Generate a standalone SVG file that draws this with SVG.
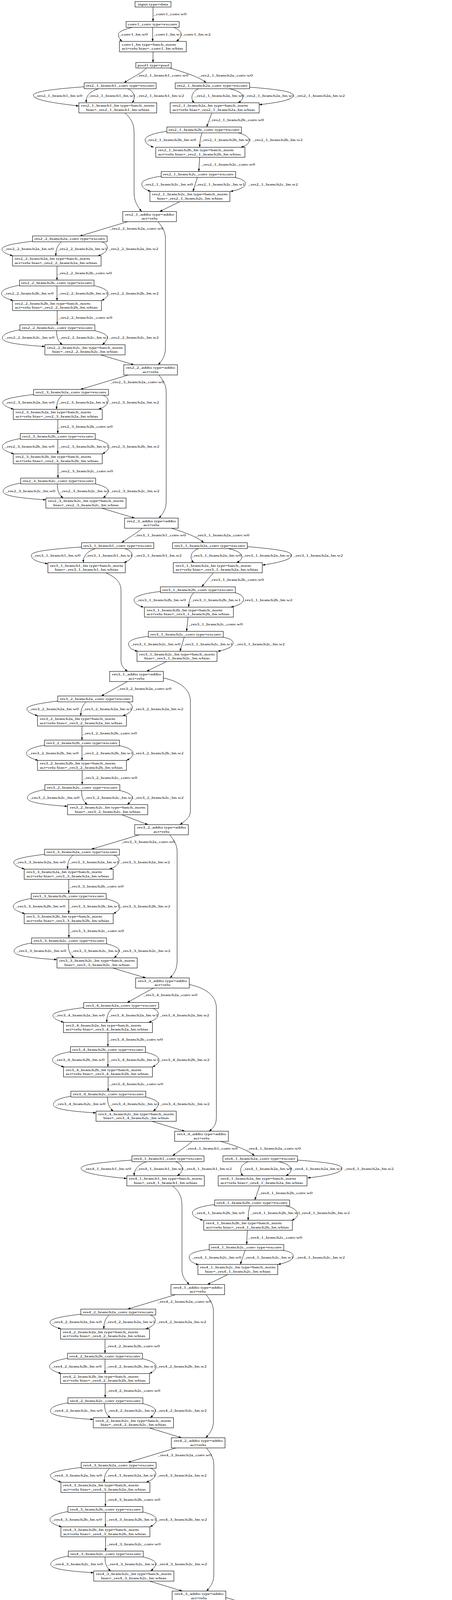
<svg xmlns="http://www.w3.org/2000/svg" width="1158" height="6603" viewBox="0 0 1158 6603">
<style>
.t{font-family:"Liberation Serif","Times New Roman",serif;font-size:8.7px;fill:#000;stroke:none;transform-box:fill-box;transform-origin:0 50%;transform:scale(1.42,1)}
.m{text-anchor:middle;transform-origin:50% 50%}
.n rect{fill:#fff;stroke:#000;stroke-width:1.1}
</style>
<defs>
<marker id="arr" viewBox="0 0 10 10" refX="10" refY="5" markerUnits="userSpaceOnUse" markerWidth="7" markerHeight="5" orient="auto" preserveAspectRatio="none"><path d="M0,0L10,5L0,10z" fill="#000" stroke="none"/></marker>
<g id="chain" fill="none" stroke="#000" stroke-width="1" marker-end="url(#arr)">
<path d="M52,76C20,80 -27,86 -27,96C-27,104 -12,110 1,113.5"/>
<path d="M125,78C114,88 111,98 111,114"/>
<path d="M230,78C250,86 248,104 218,114"/>
<path d="M114,140L114,176"/>
<path d="M18,189C0,192 -28,198 -28,210C-28,218 -12,224 2,228"/>
<path d="M114,191L114,228"/>
<path d="M210,190C236,196 245,203 245,210C245,218 236,224 228,228"/>
<path d="M114.5,253.5L114.5,290"/>
<path d="M113,305C113,322 116,332 128,341"/>
<path d="M211,305C236,311 244,318 243,323C242,330 236,336 230,341"/>
</g>
</defs>
<rect x="0" y="0" width="1158" height="6603" fill="#fff"/>

<g id="connectors" fill="none" stroke="#000" stroke-width="1" marker-end="url(#arr)">
<path d="M392,18L392,55"/>
<path d="M339,70C315,76 303.3,82 303.3,88.3C303.3,95 306,100 313,106"/>
<path d="M391,70L391,106"/>
<path d="M445,70C460,76 464,82 464,88.3C464,96 458,101 451.7,106"/>
<path d="M392,132.7L392,160"/>
<g transform="translate(0,149.1)">
<path d="M375.5,24.9C362,40 332,52 318,63"/>
<path d="M435,24.9C472,36 512,48 528,63"/>
<path d="M215.6,73C150,78 85.5,84 85.5,95C85.5,108 150,116 202,122.3"/>
<path d="M252.8,78C226,86 219,100 221.6,114"/>
<path d="M327,78C347,86 347,104 338,114"/>
<path d="M509,78C490,86 487,104 498,114"/>
<path d="M587,78C628,86 630,104 609.7,114"/>
<path d="M639.4,74C700,79 751,84 751,95C751,108 705,114 664,119"/>
<path d="M542.7,140L529.4,176"/>
<path d="M427.5,187C392,192 371.7,200 371.7,209C371.7,218 382,224 394,228"/>
<path d="M518,191C514,200 512,212 511.5,228"/>
<path d="M609.7,191C645,198 648,220 617,228"/>
<path d="M511.5,253.5L509.3,290"/>
<path d="M413,302C385,306 363,312 363,322C363,332 375,337 386,341"/>
<path d="M505.6,305L494.4,341"/>
<path d="M600.7,305C640,312 640,332 590,341"/>
<path d="M319.7,140C334,152 343.5,166 343.5,190L343.5,345C343.5,365 352,379 362.8,392.4"/>
<path d="M461,367L409,392.4"/>
</g>
<g transform="translate(32,541.5)"><use href="#chain"/><path d="M19,303C0,306 -26,312 -26,324C-26,335 10,341 83,345.5"/><path d="M295,26L172,63"/><path d="M226,367L311,392.4"/><path d="M373,26C381,37 391.8,49 391.8,69L391.8,350C391.8,370 383,382 373,392.4"/></g>
<g transform="translate(34,933.9)"><use href="#chain"/><path d="M19,303C0,306 -26,312 -26,324C-26,335 10,341 83.5,345.5"/><path d="M295,26L172,63"/><path d="M226.5,367L311,392.4"/><path d="M373,26C381,37 391.8,49 391.8,69L391.8,350C391.8,370 383,382 373,392.4"/></g>
<g transform="translate(0,1326.3)">
<path d="M364,26C350,40 325,52 312,63"/>
<path d="M438.7,26C472,36 506,48 522,63"/>
<path d="M209,74C140,79 80.3,84 80.3,95C80.3,108 100,113 122.7,117"/>
<path d="M245,78C220,86 212,100 214,114"/>
<path d="M320,78C345,86 345,104 317.5,114"/>
<path d="M509,78C486,86 485,104 496.7,114"/>
<path d="M583.6,78C626,86 628,104 606,114"/>
<path d="M633.5,73C700,79 747,84 747,95C747,108 705,115 672,120.5"/>
<path d="M546.5,140L516.7,176"/>
<path d="M411,188C372,192 343.5,200 343.5,209C343.5,219 356,225 368,228"/>
<path d="M496.7,191C487,200 484,212 483.3,228"/>
<path d="M602,191C632,198 634,220 591,228"/>
<path d="M481.8,253.5L478,290"/>
<path d="M380,303C350,306 329.4,312 329.4,322C329.4,333 341,338 353,341"/>
<path d="M472,305L461,341"/>
<path d="M571,305C607,310 609,332 557.6,341"/>
<path d="M271,140C293,150 310,162 310,185L310,365C310,378 318,386 327,392.4"/>
<path d="M427.5,367L375.5,392.4"/>
</g>
<g transform="translate(96,1718.7)"><use href="#chain"/><path d="M19,303C0,306 -26,312 -26,324C-26,335 10,341 77,345.5"/><path d="M230.5,26L163.5,63"/><path d="M216,367L283,392.4"/><path d="M322.5,17C358,24 391.8,42 391.8,77L391.8,357C391.8,375 377,383.4 365,392.4"/></g>
<g transform="translate(62,2111.1)"><use href="#chain"/><path d="M19,303C0,306 -26,312 -26,324C-26,335 10,341 84,345.5"/><path d="M295,26L172,63"/><path d="M227,367L311.5,392.4"/><path d="M373,26C381,37 391.8,49 391.8,69L391.8,350C391.8,370 383.5,382 373.5,392.4"/></g>
<g transform="translate(162.5,2503.5)"><use href="#chain"/><path d="M19,303C0,306 -26,312 -26,324C-26,335 10,341 83.5,345.5"/><path d="M230.5,26L163.5,63"/><path d="M226.5,367L311,392.4"/><path d="M322.5,17C358,24 391.8,42 391.8,77L391.8,357C391.8,375 385,383.4 373,392.4"/></g>
<g transform="translate(0,2895.9)">
<path d="M492,26C478,40 455,52 442.4,63"/>
<path d="M565,26C600,36 636,48 652,63"/>
<path d="M338,74C270,79 208,84 208,95C208,108 270,116 325,121"/>
<path d="M375.5,78C352,86 343,100 344,114"/>
<path d="M449.8,78C472,86 472,104 453.5,114"/>
<path d="M635.7,78C614,86 612,104 623,114"/>
<path d="M713.8,78C752,86 753,104 732,114"/>
<path d="M762,74C830,79 876,84 876,95C876,108 830,115 788,119.6"/>
<path d="M665.4,140L652.8,176"/>
<path d="M550,188C512,192 493,200 493,209C493,218 506,224 520.4,228"/>
<path d="M641,191C637,200 636,212 635.7,228"/>
<path d="M732,191C767,198 771,220 747,228"/>
<path d="M633.5,253.5L632,290"/>
<path d="M536,303C505,306 484.8,312 484.8,322C484.8,333 496,338 509,342"/>
<path d="M628,305L615.6,341"/>
<path d="M725,305C762,310 763,332 712,341"/>
<path d="M442.4,140C457,152 466.2,166 466.2,190L466.2,355C466.2,372 475,382 484.8,392.4"/>
<path d="M583.6,367L531.6,392.4"/>
</g>
<g transform="translate(155,3288.3)"><use href="#chain"/><path d="M19,303C0,306 -26,312 -26,324C-26,335 10,341 84,345.5"/><path d="M295,26L172,63"/><path d="M227,367L310,392.4"/><path d="M373,26C381,37 391.8,49 391.8,69L391.8,350C391.8,370 382,382 372,392.4"/></g>
<g transform="translate(156,3680.7)"><use href="#chain"/><path d="M19,303C0,306 -26,312 -26,324C-26,335 10,341 84,345.5"/><path d="M295,26L172,63"/><path d="M227,367L311,392.4"/><path d="M373,26C381,37 391.8,49 391.8,69L391.8,350C391.8,370 383,382 373,392.4"/></g>
<g transform="translate(256,4073.1)"><use href="#chain"/><path d="M19,303C0,306 -26,312 -26,324C-26,335 10,341 49.5,345.5"/><path d="M230.5,26L163.5,63"/><path d="M200.5,367L302.5,392.4"/><path d="M322.5,17C358,24 391.8,42 391.8,77L391.8,357C391.8,375 386.5,383.4 374.5,392.4"/></g>
<g transform="translate(259.5,4465.5)"><use href="#chain"/><path d="M19,303C0,306 -26,312 -26,324C-26,335 10,341 84,345.5"/><path d="M295,26L172,63"/><path d="M227,367L311.5,392.4"/><path d="M373,26C381,37 391.8,49 391.8,69L391.8,350C391.8,370 383.5,382 373.5,392.4"/></g>
<g transform="translate(360,4857.9)"><use href="#chain"/><path d="M19,303C0,306 -26,312 -26,324C-26,335 10,341 77,345.5"/><path d="M230.5,26L163.5,63"/><path d="M213,367L275.7,392.4"/><path d="M322.5,17C358,24 391.8,42 391.8,77L391.8,357C391.8,375 371.7,383.4 359.7,392.4"/></g>
<g transform="translate(0,5250.3)">
<path d="M654.3,26C640,40 615,52 602,63"/>
<path d="M727,26C762,36 796,48 810.4,63"/>
<path d="M499,73.5C430,79 369.5,84 369.5,95C369.5,108 430,116 486,122.6"/>
<path d="M536.8,78C510,86 503,102 513,114"/>
<path d="M613.4,78C637,86 637,104 617,114"/>
<path d="M799.3,78C775,86 774,104 788,114"/>
<path d="M877,78C917,86 919,104 896,114"/>
<path d="M924,74C990,79 1037,84 1037,95C1037,108 990,115 949.4,120.3"/>
<path d="M826.8,140L812,176"/>
<path d="M711.5,187.3C672,192 654.3,200 654.3,209C654.3,218 668,224 682.5,227.5"/>
<path d="M803,191C799,200 797.5,212 797,228"/>
<path d="M892,191C932,198 936,220 905.6,228"/>
<path d="M797,253.5L794,290"/>
<path d="M697.4,302C665,306 646.8,312 646.8,322C646.8,334 655,340 668.4,344.7"/>
<path d="M789.6,305L777,341"/>
<path d="M888.5,305C927,310 929,332 871.4,343.5"/>
<path d="M603.7,140C619,152 628.3,166 628.3,190L628.3,355C628.3,372 638,383 648.3,392.4"/>
<path d="M743.5,367L695.2,392.4"/>
</g>
<g transform="translate(414,5642.7)"><use href="#chain"/><path d="M19,303C0,306 -26,312 -26,324C-26,335 10,341 78,345.5"/><path d="M230.5,26L163.5,63"/><path d="M211,367L281,392.4"/><path d="M322.5,17C358,24 391.8,42 391.8,77L391.8,357C391.8,375 375,383.4 363,392.4"/></g>
<g transform="translate(479,6035.1)"><use href="#chain"/><path d="M19,303C0,306 -26,312 -26,324C-26,335 10,341 84,345.5"/><path d="M230.5,26L163.5,63"/><path d="M227,367L314.6,392.4"/><path d="M322.5,17C358,24 391.8,42 391.8,77L391.8,357C391.8,375 380.6,383.4 368.6,392.4"/></g>
<path d="M832.3,6453.5L832.3,6480.5"/>
<path d="M832.3,6495.5L832.3,6532"/>
<path d="M862.5,6558L922,6586"/>
<path d="M970,6552.6L945.7,6586"/>
</g>

<g id="nodes">
<g id="input" class="n"><rect x="346" y="4" width="92" height="14"/><text class="t m" x="392" y="13.9">input type=data</text></g>
<g id="conv1_conv" class="n"><rect x="323" y="55" width="136" height="15"/><text class="t m" x="391" y="65.4">conv1_conv type=exconv</text></g>
<g id="conv1_bn" class="n"><rect x="306" y="106" width="171.3" height="26.7"/><text class="t" x="312" y="117.2">conv1_bn type=batch_norm</text><text class="t" x="312" y="127">act=relu bias=_conv1_bn.wbias</text></g>
<g id="pool1" class="n"><rect x="348" y="160" width="90.6" height="14"/><text class="t m" x="393.3" y="170">pool1 type=pool</text></g>

<g transform="translate(0,149.1)">
<g id="res2_1_branch1_conv" class="n"><rect x="215.6" y="63" width="184.4" height="15"/><text class="t m" x="307.8" y="73.4">res2_1_branch1_conv type=exconv</text></g>
<g id="res2_1_branch2a_conv" class="n"><rect x="449" y="63" width="190.4" height="15"/><text class="t m" x="544.2" y="73.4">res2_1_branch2a_conv type=exconv</text></g>
<g id="res2_1_branch1_bn" class="n"><rect x="202" y="114" width="199.5" height="26"/><text class="t m" x="301.75" y="124.4">res2_1_branch1_bn type=batch_norm</text><text class="t m" x="301.75" y="134.9">bias=_res2_1_branch1_bn.wbias</text></g>
<g id="res2_1_branch2a_bn" class="n"><rect x="436" y="114" width="228" height="26"/><text class="t" x="442" y="124.4">res2_1_branch2a_bn type=batch_norm</text><text class="t" x="442" y="134.9">act=relu bias=_res2_1_branch2a_bn.wbias</text></g>
<g id="res2_1_branch2b_conv" class="n"><rect x="427.5" y="176" width="191" height="15"/><text class="t m" x="523" y="186.4">res2_1_branch2b_conv type=exconv</text></g>
<g id="res2_1_branch2b_bn" class="n"><rect x="399" y="228" width="228.5" height="25.5"/><text class="t" x="405" y="238.4">res2_1_branch2b_bn type=batch_norm</text><text class="t" x="405" y="248.9">act=relu bias=_res2_1_branch2b_bn.wbias</text></g>
<g id="res2_1_branch2c_conv" class="n"><rect x="413" y="290" width="190.7" height="15"/><text class="t m" x="508.3" y="300.4">res2_1_branch2c_conv type=exconv</text></g>
<g id="res2_1_branch2c_bn" class="n"><rect x="384" y="341" width="205" height="26"/><text class="t m" x="486.5" y="351.4">res2_1_branch2c_bn type=batch_norm</text><text class="t m" x="486.5" y="361.9">bias=_res2_1_branch2c_bn.wbias</text></g>
<g id="res2_1_addto" class="n"><rect x="314.5" y="392.4" width="137.5" height="26"/><text class="t m" x="383.25" y="402.8">res2_1_addto type=addto</text><text class="t m" x="383.25" y="413.3">act=relu</text></g>
</g>

<g transform="translate(32,541.5)">
<g id="res2_2_branch2a_conv" class="n"><rect x="51.5" y="62.5" width="191" height="15"/><text class="t m" x="147" y="72.9">res2_2_branch2a_conv type=exconv</text></g>
<g id="res2_2_branch2a_bn" class="n"><rect x="0" y="113.5" width="227" height="26"/><text class="t" x="5.5" y="124">res2_2_branch2a_bn type=batch_norm</text><text class="t" x="5.5" y="134.5">act=relu bias=_res2_2_branch2a_bn.wbias</text></g>
<g id="res2_2_branch2b_conv" class="n"><rect x="18" y="175.5" width="191" height="15"/><text class="t m" x="113.5" y="185.9">res2_2_branch2b_conv type=exconv</text></g>
<g id="res2_2_branch2b_bn" class="n"><rect x="0" y="228" width="228" height="25.5"/><text class="t" x="6" y="238.4">res2_2_branch2b_bn type=batch_norm</text><text class="t" x="6" y="248.9">act=relu bias=_res2_2_branch2b_bn.wbias</text></g>
<g id="res2_2_branch2c_conv" class="n"><rect x="19" y="290" width="192" height="15"/><text class="t m" x="115" y="300.4">res2_2_branch2c_conv type=exconv</text></g>
<g id="res2_2_branch2c_bn" class="n"><rect x="83" y="341" width="205.5" height="26"/><text class="t m" x="185.75" y="351.4">res2_2_branch2c_bn type=batch_norm</text><text class="t m" x="185.75" y="361.9">bias=_res2_2_branch2c_bn.wbias</text></g>
<g id="res2_2_addto" class="n"><rect x="285" y="392.4" width="137.5" height="26"/><text class="t m" x="353.75" y="402.8">res2_2_addto type=addto</text><text class="t m" x="353.75" y="413.3">act=relu</text></g>
</g>

<g transform="translate(34,933.9)">
<g id="res2_3_branch2a_conv" class="n"><rect x="52" y="63" width="192" height="15"/><text class="t m" x="148" y="73.4">res2_3_branch2a_conv type=exconv</text></g>
<g id="res2_3_branch2a_bn" class="n"><rect x="0" y="114" width="228" height="26"/><text class="t" x="6" y="124.4">res2_3_branch2a_bn type=batch_norm</text><text class="t" x="6" y="134.9">act=relu bias=_res2_3_branch2a_bn.wbias</text></g>
<g id="res2_3_branch2b_conv" class="n"><rect x="18" y="176" width="192" height="15"/><text class="t m" x="114" y="186.4">res2_3_branch2b_conv type=exconv</text></g>
<g id="res2_3_branch2b_bn" class="n"><rect x="0" y="228" width="228" height="25.5"/><text class="t" x="6" y="238.4">res2_3_branch2b_bn type=batch_norm</text><text class="t" x="6" y="248.9">act=relu bias=_res2_3_branch2b_bn.wbias</text></g>
<g id="res2_3_branch2c_conv" class="n"><rect x="19" y="290" width="192" height="15"/><text class="t m" x="115" y="300.4">res2_3_branch2c_conv type=exconv</text></g>
<g id="res2_3_branch2c_bn" class="n"><rect x="83.5" y="341" width="205.5" height="26"/><text class="t m" x="186.25" y="351.4">res2_3_branch2c_bn type=batch_norm</text><text class="t m" x="186.25" y="361.9">bias=_res2_3_branch2c_bn.wbias</text></g>
<g id="res2_3_addto" class="n"><rect x="285" y="392.4" width="137.5" height="26"/><text class="t m" x="353.75" y="402.8">res2_3_addto type=addto</text><text class="t m" x="353.75" y="413.3">act=relu</text></g>
</g>

<g transform="translate(0,1326.3)">
<g id="res3_1_branch1_conv" class="n"><rect x="209" y="63" width="185" height="15"/><text class="t m" x="301.5" y="73.4">res3_1_branch1_conv type=exconv</text></g>
<g id="res3_1_branch2a_conv" class="n"><rect x="442" y="63" width="191.5" height="15"/><text class="t m" x="537.75" y="73.4">res3_1_branch2a_conv type=exconv</text></g>
<g id="res3_1_branch1_bn" class="n"><rect x="122.7" y="114" width="198.3" height="26"/><text class="t m" x="221.85" y="124.4">res3_1_branch1_bn type=batch_norm</text><text class="t m" x="221.85" y="134.9">bias=_res3_1_branch1_bn.wbias</text></g>
<g id="res3_1_branch2a_bn" class="n"><rect x="444" y="114" width="228" height="26"/><text class="t" x="450" y="124.4">res3_1_branch2a_bn type=batch_norm</text><text class="t" x="450" y="134.9">act=relu bias=_res3_1_branch2a_bn.wbias</text></g>
<g id="res3_1_branch2b_conv" class="n"><rect x="411" y="176" width="192" height="15"/><text class="t m" x="507" y="186.4">res3_1_branch2b_conv type=exconv</text></g>
<g id="res3_1_branch2b_bn" class="n"><rect x="370" y="228" width="228" height="25.5"/><text class="t" x="376" y="238.4">res3_1_branch2b_bn type=batch_norm</text><text class="t" x="376" y="248.9">act=relu bias=_res3_1_branch2b_bn.wbias</text></g>
<g id="res3_1_branch2c_conv" class="n"><rect x="380" y="290" width="192" height="15"/><text class="t m" x="476" y="300.4">res3_1_branch2c_conv type=exconv</text></g>
<g id="res3_1_branch2c_bn" class="n"><rect x="351" y="341" width="205" height="26"/><text class="t m" x="453.5" y="351.4">res3_1_branch2c_bn type=batch_norm</text><text class="t m" x="453.5" y="361.9">bias=_res3_1_branch2c_bn.wbias</text></g>
<g id="res3_1_addto" class="n"><rect x="281" y="392.4" width="137.5" height="26"/><text class="t m" x="349.75" y="402.8">res3_1_addto type=addto</text><text class="t m" x="349.75" y="413.3">act=relu</text></g>
</g>

<g transform="translate(96,1718.7)">
<g id="res3_2_branch2a_conv" class="n"><rect x="52" y="63" width="192" height="15"/><text class="t m" x="148" y="73.4">res3_2_branch2a_conv type=exconv</text></g>
<g id="res3_2_branch2a_bn" class="n"><rect x="0" y="114" width="228" height="26"/><text class="t" x="6" y="124.4">res3_2_branch2a_bn type=batch_norm</text><text class="t" x="6" y="134.9">act=relu bias=_res3_2_branch2a_bn.wbias</text></g>
<g id="res3_2_branch2b_conv" class="n"><rect x="18" y="176" width="192" height="15"/><text class="t m" x="114" y="186.4">res3_2_branch2b_conv type=exconv</text></g>
<g id="res3_2_branch2b_bn" class="n"><rect x="0" y="228" width="228" height="25.5"/><text class="t" x="6" y="238.4">res3_2_branch2b_bn type=batch_norm</text><text class="t" x="6" y="248.9">act=relu bias=_res3_2_branch2b_bn.wbias</text></g>
<g id="res3_2_branch2c_conv" class="n"><rect x="19" y="290" width="192" height="15"/><text class="t m" x="115" y="300.4">res3_2_branch2c_conv type=exconv</text></g>
<g id="res3_2_branch2c_bn" class="n"><rect x="77" y="341" width="205.5" height="26"/><text class="t m" x="179.75" y="351.4">res3_2_branch2c_bn type=batch_norm</text><text class="t m" x="179.75" y="361.9">bias=_res3_2_branch2c_bn.wbias</text></g>
<g id="res3_2_addto" class="n"><rect x="249" y="392.4" width="137.5" height="26"/><text class="t m" x="317.75" y="402.8">res3_2_addto type=addto</text><text class="t m" x="317.75" y="413.3">act=relu</text></g>
</g>

<g transform="translate(62,2111.1)">
<g id="res3_3_branch2a_conv" class="n"><rect x="52" y="63" width="192" height="15"/><text class="t m" x="148" y="73.4">res3_3_branch2a_conv type=exconv</text></g>
<g id="res3_3_branch2a_bn" class="n"><rect x="0" y="114" width="228" height="26"/><text class="t" x="6" y="124.4">res3_3_branch2a_bn type=batch_norm</text><text class="t" x="6" y="134.9">act=relu bias=_res3_3_branch2a_bn.wbias</text></g>
<g id="res3_3_branch2b_conv" class="n"><rect x="18" y="176" width="192" height="15"/><text class="t m" x="114" y="186.4">res3_3_branch2b_conv type=exconv</text></g>
<g id="res3_3_branch2b_bn" class="n"><rect x="0" y="228" width="228" height="25.5"/><text class="t" x="6" y="238.4">res3_3_branch2b_bn type=batch_norm</text><text class="t" x="6" y="248.9">act=relu bias=_res3_3_branch2b_bn.wbias</text></g>
<g id="res3_3_branch2c_conv" class="n"><rect x="19" y="290" width="192" height="15"/><text class="t m" x="115" y="300.4">res3_3_branch2c_conv type=exconv</text></g>
<g id="res3_3_branch2c_bn" class="n"><rect x="84" y="341" width="205.5" height="26"/><text class="t m" x="186.75" y="351.4">res3_3_branch2c_bn type=batch_norm</text><text class="t m" x="186.75" y="361.9">bias=_res3_3_branch2c_bn.wbias</text></g>
<g id="res3_3_addto" class="n"><rect x="285.5" y="392.4" width="137.5" height="26"/><text class="t m" x="354.25" y="402.8">res3_3_addto type=addto</text><text class="t m" x="354.25" y="413.3">act=relu</text></g>
</g>

<g transform="translate(162.5,2503.5)">
<g id="res3_4_branch2a_conv" class="n"><rect x="52" y="63" width="192" height="15"/><text class="t m" x="148" y="73.4">res3_4_branch2a_conv type=exconv</text></g>
<g id="res3_4_branch2a_bn" class="n"><rect x="0" y="114" width="228" height="26"/><text class="t" x="6" y="124.4">res3_4_branch2a_bn type=batch_norm</text><text class="t" x="6" y="134.9">act=relu bias=_res3_4_branch2a_bn.wbias</text></g>
<g id="res3_4_branch2b_conv" class="n"><rect x="18" y="176" width="192" height="15"/><text class="t m" x="114" y="186.4">res3_4_branch2b_conv type=exconv</text></g>
<g id="res3_4_branch2b_bn" class="n"><rect x="0" y="228" width="228" height="25.5"/><text class="t" x="6" y="238.4">res3_4_branch2b_bn type=batch_norm</text><text class="t" x="6" y="248.9">act=relu bias=_res3_4_branch2b_bn.wbias</text></g>
<g id="res3_4_branch2c_conv" class="n"><rect x="19" y="290" width="192" height="15"/><text class="t m" x="115" y="300.4">res3_4_branch2c_conv type=exconv</text></g>
<g id="res3_4_branch2c_bn" class="n"><rect x="83.5" y="341" width="205.5" height="26"/><text class="t m" x="186.25" y="351.4">res3_4_branch2c_bn type=batch_norm</text><text class="t m" x="186.25" y="361.9">bias=_res3_4_branch2c_bn.wbias</text></g>
<g id="res3_4_addto" class="n"><rect x="285" y="392.4" width="137.5" height="26"/><text class="t m" x="353.75" y="402.8">res3_4_addto type=addto</text><text class="t m" x="353.75" y="413.3">act=relu</text></g>
</g>

<g transform="translate(0,2895.9)">
<g id="res4_1_branch1_conv" class="n"><rect x="338" y="63" width="184.7" height="15"/><text class="t m" x="430.35" y="73.4">res4_1_branch1_conv type=exconv</text></g>
<g id="res4_1_branch2a_conv" class="n"><rect x="571" y="63" width="191" height="15"/><text class="t m" x="666.5" y="73.4">res4_1_branch2a_conv type=exconv</text></g>
<g id="res4_1_branch1_bn" class="n"><rect x="325" y="114" width="198.4" height="26"/><text class="t m" x="424.2" y="124.4">res4_1_branch1_bn type=batch_norm</text><text class="t m" x="424.2" y="134.9">bias=_res4_1_branch1_bn.wbias</text></g>
<g id="res4_1_branch2a_bn" class="n"><rect x="559" y="114" width="227.6" height="26"/><text class="t" x="565" y="124.4">res4_1_branch2a_bn type=batch_norm</text><text class="t" x="565" y="134.9">act=relu bias=_res4_1_branch2a_bn.wbias</text></g>
<g id="res4_1_branch2b_conv" class="n"><rect x="550" y="176" width="192" height="15"/><text class="t m" x="646" y="186.4">res4_1_branch2b_conv type=exconv</text></g>
<g id="res4_1_branch2b_bn" class="n"><rect x="522" y="228" width="227" height="25.5"/><text class="t" x="528" y="238.4">res4_1_branch2b_bn type=batch_norm</text><text class="t" x="528" y="248.9">act=relu bias=_res4_1_branch2b_bn.wbias</text></g>
<g id="res4_1_branch2c_conv" class="n"><rect x="536" y="290" width="191" height="15"/><text class="t m" x="631.5" y="300.4">res4_1_branch2c_conv type=exconv</text></g>
<g id="res4_1_branch2c_bn" class="n"><rect x="507" y="341" width="204.5" height="26"/><text class="t m" x="609.25" y="351.4">res4_1_branch2c_bn type=batch_norm</text><text class="t m" x="609.25" y="361.9">bias=_res4_1_branch2c_bn.wbias</text></g>
<g id="res4_1_addto" class="n"><rect x="438" y="392.4" width="137.5" height="26"/><text class="t m" x="506.75" y="402.8">res4_1_addto type=addto</text><text class="t m" x="506.75" y="413.3">act=relu</text></g>
</g>

<g transform="translate(155,3288.3)">
<g id="res4_2_branch2a_conv" class="n"><rect x="52" y="63" width="192" height="15"/><text class="t m" x="148" y="73.4">res4_2_branch2a_conv type=exconv</text></g>
<g id="res4_2_branch2a_bn" class="n"><rect x="0" y="114" width="228" height="26"/><text class="t" x="6" y="124.4">res4_2_branch2a_bn type=batch_norm</text><text class="t" x="6" y="134.9">act=relu bias=_res4_2_branch2a_bn.wbias</text></g>
<g id="res4_2_branch2b_conv" class="n"><rect x="18" y="176" width="192" height="15"/><text class="t m" x="114" y="186.4">res4_2_branch2b_conv type=exconv</text></g>
<g id="res4_2_branch2b_bn" class="n"><rect x="0" y="228" width="228" height="25.5"/><text class="t" x="6" y="238.4">res4_2_branch2b_bn type=batch_norm</text><text class="t" x="6" y="248.9">act=relu bias=_res4_2_branch2b_bn.wbias</text></g>
<g id="res4_2_branch2c_conv" class="n"><rect x="19" y="290" width="192" height="15"/><text class="t m" x="115" y="300.4">res4_2_branch2c_conv type=exconv</text></g>
<g id="res4_2_branch2c_bn" class="n"><rect x="84" y="341" width="205.5" height="26"/><text class="t m" x="186.75" y="351.4">res4_2_branch2c_bn type=batch_norm</text><text class="t m" x="186.75" y="361.9">bias=_res4_2_branch2c_bn.wbias</text></g>
<g id="res4_2_addto" class="n"><rect x="284" y="392.4" width="137.5" height="26"/><text class="t m" x="352.75" y="402.8">res4_2_addto type=addto</text><text class="t m" x="352.75" y="413.3">act=relu</text></g>
</g>

<g transform="translate(156,3680.7)">
<g id="res4_3_branch2a_conv" class="n"><rect x="52" y="63" width="192" height="15"/><text class="t m" x="148" y="73.4">res4_3_branch2a_conv type=exconv</text></g>
<g id="res4_3_branch2a_bn" class="n"><rect x="0" y="114" width="228" height="26"/><text class="t" x="6" y="124.4">res4_3_branch2a_bn type=batch_norm</text><text class="t" x="6" y="134.9">act=relu bias=_res4_3_branch2a_bn.wbias</text></g>
<g id="res4_3_branch2b_conv" class="n"><rect x="18" y="176" width="192" height="15"/><text class="t m" x="114" y="186.4">res4_3_branch2b_conv type=exconv</text></g>
<g id="res4_3_branch2b_bn" class="n"><rect x="0" y="228" width="228" height="25.5"/><text class="t" x="6" y="238.4">res4_3_branch2b_bn type=batch_norm</text><text class="t" x="6" y="248.9">act=relu bias=_res4_3_branch2b_bn.wbias</text></g>
<g id="res4_3_branch2c_conv" class="n"><rect x="19" y="290" width="192" height="15"/><text class="t m" x="115" y="300.4">res4_3_branch2c_conv type=exconv</text></g>
<g id="res4_3_branch2c_bn" class="n"><rect x="84" y="341" width="205.5" height="26"/><text class="t m" x="186.75" y="351.4">res4_3_branch2c_bn type=batch_norm</text><text class="t m" x="186.75" y="361.9">bias=_res4_3_branch2c_bn.wbias</text></g>
<g id="res4_3_addto" class="n"><rect x="285" y="392.4" width="137.5" height="26"/><text class="t m" x="353.75" y="402.8">res4_3_addto type=addto</text><text class="t m" x="353.75" y="413.3">act=relu</text></g>
</g>

<g transform="translate(256,4073.1)">
<g id="res4_4_branch2a_conv" class="n"><rect x="52" y="63" width="192" height="15"/><text class="t m" x="148" y="73.4">res4_4_branch2a_conv type=exconv</text></g>
<g id="res4_4_branch2a_bn" class="n"><rect x="0" y="114" width="228" height="26"/><text class="t" x="6" y="124.4">res4_4_branch2a_bn type=batch_norm</text><text class="t" x="6" y="134.9">act=relu bias=_res4_4_branch2a_bn.wbias</text></g>
<g id="res4_4_branch2b_conv" class="n"><rect x="18" y="176" width="192" height="15"/><text class="t m" x="114" y="186.4">res4_4_branch2b_conv type=exconv</text></g>
<g id="res4_4_branch2b_bn" class="n"><rect x="0" y="228" width="228" height="25.5"/><text class="t" x="6" y="238.4">res4_4_branch2b_bn type=batch_norm</text><text class="t" x="6" y="248.9">act=relu bias=_res4_4_branch2b_bn.wbias</text></g>
<g id="res4_4_branch2c_conv" class="n"><rect x="19" y="290" width="192" height="15"/><text class="t m" x="115" y="300.4">res4_4_branch2c_conv type=exconv</text></g>
<g id="res4_4_branch2c_bn" class="n"><rect x="49.5" y="341" width="205.5" height="26"/><text class="t m" x="152.25" y="351.4">res4_4_branch2c_bn type=batch_norm</text><text class="t m" x="152.25" y="361.9">bias=_res4_4_branch2c_bn.wbias</text></g>
<g id="res4_4_addto" class="n"><rect x="286.5" y="392.4" width="137.5" height="26"/><text class="t m" x="355.25" y="402.8">res4_4_addto type=addto</text><text class="t m" x="355.25" y="413.3">act=relu</text></g>
</g>

<g transform="translate(259.5,4465.5)">
<g id="res4_5_branch2a_conv" class="n"><rect x="52" y="63" width="192" height="15"/><text class="t m" x="148" y="73.4">res4_5_branch2a_conv type=exconv</text></g>
<g id="res4_5_branch2a_bn" class="n"><rect x="0" y="114" width="228" height="26"/><text class="t" x="6" y="124.4">res4_5_branch2a_bn type=batch_norm</text><text class="t" x="6" y="134.9">act=relu bias=_res4_5_branch2a_bn.wbias</text></g>
<g id="res4_5_branch2b_conv" class="n"><rect x="18" y="176" width="192" height="15"/><text class="t m" x="114" y="186.4">res4_5_branch2b_conv type=exconv</text></g>
<g id="res4_5_branch2b_bn" class="n"><rect x="0" y="228" width="228" height="25.5"/><text class="t" x="6" y="238.4">res4_5_branch2b_bn type=batch_norm</text><text class="t" x="6" y="248.9">act=relu bias=_res4_5_branch2b_bn.wbias</text></g>
<g id="res4_5_branch2c_conv" class="n"><rect x="19" y="290" width="192" height="15"/><text class="t m" x="115" y="300.4">res4_5_branch2c_conv type=exconv</text></g>
<g id="res4_5_branch2c_bn" class="n"><rect x="84" y="341" width="205.5" height="26"/><text class="t m" x="186.75" y="351.4">res4_5_branch2c_bn type=batch_norm</text><text class="t m" x="186.75" y="361.9">bias=_res4_5_branch2c_bn.wbias</text></g>
<g id="res4_5_addto" class="n"><rect x="285.5" y="392.4" width="137.5" height="26"/><text class="t m" x="354.25" y="402.8">res4_5_addto type=addto</text><text class="t m" x="354.25" y="413.3">act=relu</text></g>
</g>

<g transform="translate(360,4857.9)">
<g id="res4_6_branch2a_conv" class="n"><rect x="52" y="63" width="192" height="15"/><text class="t m" x="148" y="73.4">res4_6_branch2a_conv type=exconv</text></g>
<g id="res4_6_branch2a_bn" class="n"><rect x="0" y="114" width="228" height="26"/><text class="t" x="6" y="124.4">res4_6_branch2a_bn type=batch_norm</text><text class="t" x="6" y="134.9">act=relu bias=_res4_6_branch2a_bn.wbias</text></g>
<g id="res4_6_branch2b_conv" class="n"><rect x="18" y="176" width="192" height="15"/><text class="t m" x="114" y="186.4">res4_6_branch2b_conv type=exconv</text></g>
<g id="res4_6_branch2b_bn" class="n"><rect x="0" y="228" width="228" height="25.5"/><text class="t" x="6" y="238.4">res4_6_branch2b_bn type=batch_norm</text><text class="t" x="6" y="248.9">act=relu bias=_res4_6_branch2b_bn.wbias</text></g>
<g id="res4_6_branch2c_conv" class="n"><rect x="19" y="290" width="192" height="15"/><text class="t m" x="115" y="300.4">res4_6_branch2c_conv type=exconv</text></g>
<g id="res4_6_branch2c_bn" class="n"><rect x="77" y="341" width="205.5" height="26"/><text class="t m" x="179.75" y="351.4">res4_6_branch2c_bn type=batch_norm</text><text class="t m" x="179.75" y="361.9">bias=_res4_6_branch2c_bn.wbias</text></g>
<g id="res4_6_addto" class="n"><rect x="249.7" y="392.4" width="137.5" height="26"/><text class="t m" x="318.45" y="402.8">res4_6_addto type=addto</text><text class="t m" x="318.45" y="413.3">act=relu</text></g>
</g>

<g transform="translate(0,5250.3)">
<g id="res5_1_branch1_conv" class="n"><rect x="499" y="63" width="185" height="15"/><text class="t m" x="591.5" y="73.4">res5_1_branch1_conv type=exconv</text></g>
<g id="res5_1_branch2a_conv" class="n"><rect x="732" y="63" width="192" height="15"/><text class="t m" x="828" y="73.4">res5_1_branch2a_conv type=exconv</text></g>
<g id="res5_1_branch1_bn" class="n"><rect x="486" y="114" width="199" height="26"/><text class="t m" x="585.5" y="124.4">res5_1_branch1_bn type=batch_norm</text><text class="t m" x="585.5" y="134.9">bias=_res5_1_branch1_bn.wbias</text></g>
<g id="res5_1_branch2a_bn" class="n"><rect x="720" y="114" width="229" height="26"/><text class="t" x="726" y="124.4">res5_1_branch2a_bn type=batch_norm</text><text class="t" x="726" y="134.9">act=relu bias=_res5_1_branch2a_bn.wbias</text></g>
<g id="res5_1_branch2b_conv" class="n"><rect x="711.5" y="176" width="194" height="15"/><text class="t m" x="808.5" y="186.4">res5_1_branch2b_conv type=exconv</text></g>
<g id="res5_1_branch2b_bn" class="n"><rect x="682.5" y="228" width="229" height="25.5"/><text class="t" x="688.5" y="238.4">res5_1_branch2b_bn type=batch_norm</text><text class="t" x="688.5" y="248.9">act=relu bias=_res5_1_branch2b_bn.wbias</text></g>
<g id="res5_1_branch2c_conv" class="n"><rect x="697" y="290" width="192" height="15"/><text class="t m" x="793" y="300.4">res5_1_branch2c_conv type=exconv</text></g>
<g id="res5_1_branch2c_bn" class="n"><rect x="668" y="341" width="205.6" height="26"/><text class="t m" x="770.8" y="351.4">res5_1_branch2c_bn type=batch_norm</text><text class="t m" x="770.8" y="361.9">bias=_res5_1_branch2c_bn.wbias</text></g>
<g id="res5_1_addto" class="n"><rect x="599" y="392.4" width="137.5" height="26"/><text class="t m" x="667.75" y="402.8">res5_1_addto type=addto</text><text class="t m" x="667.75" y="413.3">act=relu</text></g>
</g>

<g transform="translate(414,5642.7)">
<g id="res5_2_branch2a_conv" class="n"><rect x="52" y="63" width="192" height="15"/><text class="t m" x="148" y="73.4">res5_2_branch2a_conv type=exconv</text></g>
<g id="res5_2_branch2a_bn" class="n"><rect x="0" y="114" width="228" height="26"/><text class="t" x="6" y="124.4">res5_2_branch2a_bn type=batch_norm</text><text class="t" x="6" y="134.9">act=relu bias=_res5_2_branch2a_bn.wbias</text></g>
<g id="res5_2_branch2b_conv" class="n"><rect x="18" y="176" width="192" height="15"/><text class="t m" x="114" y="186.4">res5_2_branch2b_conv type=exconv</text></g>
<g id="res5_2_branch2b_bn" class="n"><rect x="0" y="228" width="228" height="25.5"/><text class="t" x="6" y="238.4">res5_2_branch2b_bn type=batch_norm</text><text class="t" x="6" y="248.9">act=relu bias=_res5_2_branch2b_bn.wbias</text></g>
<g id="res5_2_branch2c_conv" class="n"><rect x="19" y="290" width="192" height="15"/><text class="t m" x="115" y="300.4">res5_2_branch2c_conv type=exconv</text></g>
<g id="res5_2_branch2c_bn" class="n"><rect x="78" y="341" width="205.5" height="26"/><text class="t m" x="180.75" y="351.4">res5_2_branch2c_bn type=batch_norm</text><text class="t m" x="180.75" y="361.9">bias=_res5_2_branch2c_bn.wbias</text></g>
<g id="res5_2_addto" class="n"><rect x="250" y="392.4" width="137.5" height="26"/><text class="t m" x="318.75" y="402.8">res5_2_addto type=addto</text><text class="t m" x="318.75" y="413.3">act=relu</text></g>
</g>

<g transform="translate(479,6035.1)">
<g id="res5_3_branch2a_conv" class="n"><rect x="52" y="63" width="192" height="15"/><text class="t m" x="148" y="73.4">res5_3_branch2a_conv type=exconv</text></g>
<g id="res5_3_branch2a_bn" class="n"><rect x="0" y="114" width="228" height="26"/><text class="t" x="6" y="124.4">res5_3_branch2a_bn type=batch_norm</text><text class="t" x="6" y="134.9">act=relu bias=_res5_3_branch2a_bn.wbias</text></g>
<g id="res5_3_branch2b_conv" class="n"><rect x="18" y="176" width="192" height="15"/><text class="t m" x="114" y="186.4">res5_3_branch2b_conv type=exconv</text></g>
<g id="res5_3_branch2b_bn" class="n"><rect x="0" y="228" width="228" height="25.5"/><text class="t" x="6" y="238.4">res5_3_branch2b_bn type=batch_norm</text><text class="t" x="6" y="248.9">act=relu bias=_res5_3_branch2b_bn.wbias</text></g>
<g id="res5_3_branch2c_conv" class="n"><rect x="19" y="290" width="192" height="15"/><text class="t m" x="115" y="300.4">res5_3_branch2c_conv type=exconv</text></g>
<g id="res5_3_branch2c_bn" class="n"><rect x="84" y="341" width="205.5" height="26"/><text class="t m" x="186.75" y="351.4">res5_3_branch2c_bn type=batch_norm</text><text class="t m" x="186.75" y="361.9">bias=_res5_3_branch2c_bn.wbias</text></g>
<g id="res5_3_addto" class="n"><rect x="284.6" y="392.4" width="137.5" height="26"/><text class="t m" x="353.35" y="402.8">res5_3_addto type=addto</text><text class="t m" x="353.35" y="413.3">act=relu</text></g>
</g>

<g id="avgpool" class="n"><rect x="780.7" y="6480.5" width="102.3" height="15"/><text class="t m" x="832" y="6490.9">avgpool type=pool</text></g>
<g id="output" class="n"><rect x="743.5" y="6532" width="177" height="26"/><text class="t" x="749.5" y="6542.4">output type=fc</text><text class="t" x="749.5" y="6552.9">act=softmax bias=_output.wbias</text></g>
<g id="label" class="n"><rect x="934.6" y="6537.6" width="88.4" height="15"/><text class="t m" x="978.8" y="6548">label type=data</text></g>
<g id="__cost_0__" class="n"><rect x="827" y="6586" width="221" height="15"/><text class="t m" x="937.5" y="6596.4">__cost_0__ type=multi-class-cross-entropy</text></g>
</g>

<g id="edge_labels">
<text class="t" x="393.5" y="38.9">_conv1_conv.w0</text>
<text class="t" x="305" y="91.2">_conv1_bn.w0</text>
<text class="t" x="393.3" y="91.2">_conv1_bn.w1</text>
<text class="t" x="466" y="91.2">_conv1_bn.w2</text>
<text class="t" x="834.5" y="6516.5">_output.w0</text>

<g transform="translate(0,149.1)">
<text class="t" x="349.5" y="46.9">_res2_1_branch1_conv.w0</text>
<text class="t" x="509" y="46.9">_res2_1_branch2a_conv.w0</text>
<text class="t" x="89" y="98.9">_res2_1_branch1_bn.w0</text>
<text class="t" x="225" y="98.9">_res2_1_branch1_bn.w1</text>
<text class="t" x="349.5" y="98.9">_res2_1_branch1_bn.w2</text>
<text class="t" x="498" y="98.9">_res2_1_branch2a_bn.w0</text>
<text class="t" x="626.8" y="98.9">_res2_1_branch2a_bn.w1</text>
<text class="t" x="756" y="98.9">_res2_1_branch2a_bn.w2</text>
<text class="t" x="537" y="160.9">_res2_1_branch2b_conv.w0</text>
<text class="t" x="374" y="212.4">_res2_1_branch2b_bn.w0</text>
<text class="t" x="515" y="212.4">_res2_1_branch2b_bn.w1</text>
<text class="t" x="647" y="212.4">_res2_1_branch2b_bn.w2</text>
<text class="t" x="515" y="274.9">_res2_1_branch2c_conv.w0</text>
<text class="t" x="366.5" y="325.9">_res2_1_branch2c_bn.w0</text>
<text class="t" x="500" y="325.9">_res2_1_branch2c_bn.w1</text>
<text class="t" x="635.7" y="325.9">_res2_1_branch2c_bn.w2</text>
</g>

<g transform="translate(32,541.5)">
<text class="t" x="248" y="46.9">_res2_2_branch2a_conv.w0</text>
<text class="t" x="-22" y="98.9">_res2_2_branch2a_bn.w0</text>
<text class="t" x="115" y="98.9">_res2_2_branch2a_bn.w1</text>
<text class="t" x="246" y="98.9">_res2_2_branch2a_bn.w2</text>
<text class="t" x="115.5" y="160.9">_res2_2_branch2b_conv.w0</text>
<text class="t" x="-23" y="212.4">_res2_2_branch2b_bn.w0</text>
<text class="t" x="116.5" y="212.4">_res2_2_branch2b_bn.w1</text>
<text class="t" x="246" y="212.4">_res2_2_branch2b_bn.w2</text>
<text class="t" x="117" y="274.9">_res2_2_branch2c_conv.w0</text>
<text class="t" x="-20" y="325.9">_res2_2_branch2c_bn.w0</text>
<text class="t" x="119" y="325.9">_res2_2_branch2c_bn.w1</text>
<text class="t" x="247" y="325.9">_res2_2_branch2c_bn.w2</text>
</g>

<g transform="translate(34,933.9)">
<text class="t" x="248" y="46.9">_res2_3_branch2a_conv.w0</text>
<text class="t" x="-22" y="98.9">_res2_3_branch2a_bn.w0</text>
<text class="t" x="115" y="98.9">_res2_3_branch2a_bn.w1</text>
<text class="t" x="246" y="98.9">_res2_3_branch2a_bn.w2</text>
<text class="t" x="115.5" y="160.9">_res2_3_branch2b_conv.w0</text>
<text class="t" x="-23" y="212.4">_res2_3_branch2b_bn.w0</text>
<text class="t" x="116.5" y="212.4">_res2_3_branch2b_bn.w1</text>
<text class="t" x="246" y="212.4">_res2_3_branch2b_bn.w2</text>
<text class="t" x="117" y="274.9">_res2_3_branch2c_conv.w0</text>
<text class="t" x="-20" y="325.9">_res2_3_branch2c_bn.w0</text>
<text class="t" x="119" y="325.9">_res2_3_branch2c_bn.w1</text>
<text class="t" x="247" y="325.9">_res2_3_branch2c_bn.w2</text>
</g>

<g transform="translate(0,1326.3)">
<text class="t" x="343.5" y="46.9">_res3_1_branch1_conv.w0</text>
<text class="t" x="500.4" y="46.9">_res3_1_branch2a_conv.w0</text>
<text class="t" x="84" y="98.9">_res3_1_branch1_bn.w0</text>
<text class="t" x="218" y="98.9">_res3_1_branch1_bn.w1</text>
<text class="t" x="343.5" y="98.9">_res3_1_branch1_bn.w2</text>
<text class="t" x="490.7" y="98.9">_res3_1_branch2a_bn.w0</text>
<text class="t" x="620.8" y="98.9">_res3_1_branch2a_bn.w1</text>
<text class="t" x="751" y="98.9">_res3_1_branch2a_bn.w2</text>
<text class="t" x="536.8" y="160.9">_res3_1_branch2b_conv.w0</text>
<text class="t" x="348" y="212.4">_res3_1_branch2b_bn.w0</text>
<text class="t" x="488.5" y="212.4">_res3_1_branch2b_bn.w1</text>
<text class="t" x="620.8" y="212.4">_res3_1_branch2b_bn.w2</text>
<text class="t" x="483.3" y="274.9">_res3_1_branch2c_conv.w0</text>
<text class="t" x="334.6" y="325.9">_res3_1_branch2c_bn.w0</text>
<text class="t" x="468.4" y="325.9">_res3_1_branch2c_bn.w1</text>
<text class="t" x="602" y="325.9">_res3_1_branch2c_bn.w2</text>
</g>

<g transform="translate(96,1718.7)">
<text class="t" x="204.5" y="46.9">_res3_2_branch2a_conv.w0</text>
<text class="t" x="-22" y="98.9">_res3_2_branch2a_bn.w0</text>
<text class="t" x="115" y="98.9">_res3_2_branch2a_bn.w1</text>
<text class="t" x="246" y="98.9">_res3_2_branch2a_bn.w2</text>
<text class="t" x="115.5" y="160.9">_res3_2_branch2b_conv.w0</text>
<text class="t" x="-23" y="212.4">_res3_2_branch2b_bn.w0</text>
<text class="t" x="116.5" y="212.4">_res3_2_branch2b_bn.w1</text>
<text class="t" x="246" y="212.4">_res3_2_branch2b_bn.w2</text>
<text class="t" x="117" y="274.9">_res3_2_branch2c_conv.w0</text>
<text class="t" x="-20" y="325.9">_res3_2_branch2c_bn.w0</text>
<text class="t" x="119" y="325.9">_res3_2_branch2c_bn.w1</text>
<text class="t" x="247" y="325.9">_res3_2_branch2c_bn.w2</text>
</g>

<g transform="translate(62,2111.1)">
<text class="t" x="248" y="46.9">_res3_3_branch2a_conv.w0</text>
<text class="t" x="-22" y="98.9">_res3_3_branch2a_bn.w0</text>
<text class="t" x="115" y="98.9">_res3_3_branch2a_bn.w1</text>
<text class="t" x="246" y="98.9">_res3_3_branch2a_bn.w2</text>
<text class="t" x="115.5" y="160.9">_res3_3_branch2b_conv.w0</text>
<text class="t" x="-23" y="212.4">_res3_3_branch2b_bn.w0</text>
<text class="t" x="116.5" y="212.4">_res3_3_branch2b_bn.w1</text>
<text class="t" x="246" y="212.4">_res3_3_branch2b_bn.w2</text>
<text class="t" x="117" y="274.9">_res3_3_branch2c_conv.w0</text>
<text class="t" x="-20" y="325.9">_res3_3_branch2c_bn.w0</text>
<text class="t" x="119" y="325.9">_res3_3_branch2c_bn.w1</text>
<text class="t" x="247" y="325.9">_res3_3_branch2c_bn.w2</text>
</g>

<g transform="translate(162.5,2503.5)">
<text class="t" x="204.5" y="46.9">_res3_4_branch2a_conv.w0</text>
<text class="t" x="-22" y="98.9">_res3_4_branch2a_bn.w0</text>
<text class="t" x="115" y="98.9">_res3_4_branch2a_bn.w1</text>
<text class="t" x="246" y="98.9">_res3_4_branch2a_bn.w2</text>
<text class="t" x="115.5" y="160.9">_res3_4_branch2b_conv.w0</text>
<text class="t" x="-23" y="212.4">_res3_4_branch2b_bn.w0</text>
<text class="t" x="116.5" y="212.4">_res3_4_branch2b_bn.w1</text>
<text class="t" x="246" y="212.4">_res3_4_branch2b_bn.w2</text>
<text class="t" x="117" y="274.9">_res3_4_branch2c_conv.w0</text>
<text class="t" x="-20" y="325.9">_res3_4_branch2c_bn.w0</text>
<text class="t" x="119" y="325.9">_res3_4_branch2c_bn.w1</text>
<text class="t" x="247" y="325.9">_res3_4_branch2c_bn.w2</text>
</g>

<g transform="translate(0,2895.9)">
<text class="t" x="475.8" y="46.9">_res4_1_branch1_conv.w0</text>
<text class="t" x="632" y="46.9">_res4_1_branch2a_conv.w0</text>
<text class="t" x="214" y="98.9">_res4_1_branch1_bn.w0</text>
<text class="t" x="349.4" y="98.9">_res4_1_branch1_bn.w1</text>
<text class="t" x="472" y="98.9">_res4_1_branch1_bn.w2</text>
<text class="t" x="620.8" y="98.9">_res4_1_branch2a_bn.w0</text>
<text class="t" x="749.4" y="98.9">_res4_1_branch2a_bn.w1</text>
<text class="t" x="881" y="98.9">_res4_1_branch2a_bn.w2</text>
<text class="t" x="661.7" y="160.9">_res4_1_branch2b_conv.w0</text>
<text class="t" x="498" y="212.4">_res4_1_branch2b_bn.w0</text>
<text class="t" x="641" y="212.4">_res4_1_branch2b_bn.w1</text>
<text class="t" x="768" y="212.4">_res4_1_branch2b_bn.w2</text>
<text class="t" x="635.7" y="274.9">_res4_1_branch2c_conv.w0</text>
<text class="t" x="490.7" y="325.9">_res4_1_branch2c_bn.w0</text>
<text class="t" x="624.5" y="325.9">_res4_1_branch2c_bn.w1</text>
<text class="t" x="756" y="325.9">_res4_1_branch2c_bn.w2</text>
</g>

<g transform="translate(155,3288.3)">
<text class="t" x="248" y="46.9">_res4_2_branch2a_conv.w0</text>
<text class="t" x="-22" y="98.9">_res4_2_branch2a_bn.w0</text>
<text class="t" x="115" y="98.9">_res4_2_branch2a_bn.w1</text>
<text class="t" x="246" y="98.9">_res4_2_branch2a_bn.w2</text>
<text class="t" x="115.5" y="160.9">_res4_2_branch2b_conv.w0</text>
<text class="t" x="-23" y="212.4">_res4_2_branch2b_bn.w0</text>
<text class="t" x="116.5" y="212.4">_res4_2_branch2b_bn.w1</text>
<text class="t" x="246" y="212.4">_res4_2_branch2b_bn.w2</text>
<text class="t" x="117" y="274.9">_res4_2_branch2c_conv.w0</text>
<text class="t" x="-20" y="325.9">_res4_2_branch2c_bn.w0</text>
<text class="t" x="119" y="325.9">_res4_2_branch2c_bn.w1</text>
<text class="t" x="247" y="325.9">_res4_2_branch2c_bn.w2</text>
</g>

<g transform="translate(156,3680.7)">
<text class="t" x="248" y="46.9">_res4_3_branch2a_conv.w0</text>
<text class="t" x="-22" y="98.9">_res4_3_branch2a_bn.w0</text>
<text class="t" x="115" y="98.9">_res4_3_branch2a_bn.w1</text>
<text class="t" x="246" y="98.9">_res4_3_branch2a_bn.w2</text>
<text class="t" x="115.5" y="160.9">_res4_3_branch2b_conv.w0</text>
<text class="t" x="-23" y="212.4">_res4_3_branch2b_bn.w0</text>
<text class="t" x="116.5" y="212.4">_res4_3_branch2b_bn.w1</text>
<text class="t" x="246" y="212.4">_res4_3_branch2b_bn.w2</text>
<text class="t" x="117" y="274.9">_res4_3_branch2c_conv.w0</text>
<text class="t" x="-20" y="325.9">_res4_3_branch2c_bn.w0</text>
<text class="t" x="119" y="325.9">_res4_3_branch2c_bn.w1</text>
<text class="t" x="247" y="325.9">_res4_3_branch2c_bn.w2</text>
</g>

<g transform="translate(256,4073.1)">
<text class="t" x="204.5" y="46.9">_res4_4_branch2a_conv.w0</text>
<text class="t" x="-22" y="98.9">_res4_4_branch2a_bn.w0</text>
<text class="t" x="115" y="98.9">_res4_4_branch2a_bn.w1</text>
<text class="t" x="246" y="98.9">_res4_4_branch2a_bn.w2</text>
<text class="t" x="115.5" y="160.9">_res4_4_branch2b_conv.w0</text>
<text class="t" x="-23" y="212.4">_res4_4_branch2b_bn.w0</text>
<text class="t" x="116.5" y="212.4">_res4_4_branch2b_bn.w1</text>
<text class="t" x="246" y="212.4">_res4_4_branch2b_bn.w2</text>
<text class="t" x="117" y="274.9">_res4_4_branch2c_conv.w0</text>
<text class="t" x="-20" y="325.9">_res4_4_branch2c_bn.w0</text>
<text class="t" x="119" y="325.9">_res4_4_branch2c_bn.w1</text>
<text class="t" x="247" y="325.9">_res4_4_branch2c_bn.w2</text>
</g>

<g transform="translate(259.5,4465.5)">
<text class="t" x="248" y="46.9">_res4_5_branch2a_conv.w0</text>
<text class="t" x="-22" y="98.9">_res4_5_branch2a_bn.w0</text>
<text class="t" x="115" y="98.9">_res4_5_branch2a_bn.w1</text>
<text class="t" x="246" y="98.9">_res4_5_branch2a_bn.w2</text>
<text class="t" x="115.5" y="160.9">_res4_5_branch2b_conv.w0</text>
<text class="t" x="-23" y="212.4">_res4_5_branch2b_bn.w0</text>
<text class="t" x="116.5" y="212.4">_res4_5_branch2b_bn.w1</text>
<text class="t" x="246" y="212.4">_res4_5_branch2b_bn.w2</text>
<text class="t" x="117" y="274.9">_res4_5_branch2c_conv.w0</text>
<text class="t" x="-20" y="325.9">_res4_5_branch2c_bn.w0</text>
<text class="t" x="119" y="325.9">_res4_5_branch2c_bn.w1</text>
<text class="t" x="247" y="325.9">_res4_5_branch2c_bn.w2</text>
</g>

<g transform="translate(360,4857.9)">
<text class="t" x="204.5" y="46.9">_res4_6_branch2a_conv.w0</text>
<text class="t" x="-22" y="98.9">_res4_6_branch2a_bn.w0</text>
<text class="t" x="115" y="98.9">_res4_6_branch2a_bn.w1</text>
<text class="t" x="246" y="98.9">_res4_6_branch2a_bn.w2</text>
<text class="t" x="115.5" y="160.9">_res4_6_branch2b_conv.w0</text>
<text class="t" x="-23" y="212.4">_res4_6_branch2b_bn.w0</text>
<text class="t" x="116.5" y="212.4">_res4_6_branch2b_bn.w1</text>
<text class="t" x="246" y="212.4">_res4_6_branch2b_bn.w2</text>
<text class="t" x="117" y="274.9">_res4_6_branch2c_conv.w0</text>
<text class="t" x="-20" y="325.9">_res4_6_branch2c_bn.w0</text>
<text class="t" x="119" y="325.9">_res4_6_branch2c_bn.w1</text>
<text class="t" x="247" y="325.9">_res4_6_branch2c_bn.w2</text>
</g>

<g transform="translate(0,5250.3)">
<text class="t" x="633.5" y="46.9">_res5_1_branch1_conv.w0</text>
<text class="t" x="790" y="46.9">_res5_1_branch2a_conv.w0</text>
<text class="t" x="374" y="98.9">_res5_1_branch1_bn.w0</text>
<text class="t" x="509.3" y="98.9">_res5_1_branch1_bn.w1</text>
<text class="t" x="632" y="98.9">_res5_1_branch1_bn.w2</text>
<text class="t" x="780.7" y="98.9">_res5_1_branch2a_bn.w0</text>
<text class="t" x="910.8" y="98.9">_res5_1_branch2a_bn.w1</text>
<text class="t" x="1041" y="98.9">_res5_1_branch2a_bn.w2</text>
<text class="t" x="821.6" y="160.9">_res5_1_branch2b_conv.w0</text>
<text class="t" x="658" y="212.4">_res5_1_branch2b_bn.w0</text>
<text class="t" x="803" y="212.4">_res5_1_branch2b_bn.w1</text>
<text class="t" x="931" y="212.4">_res5_1_branch2b_bn.w2</text>
<text class="t" x="799.3" y="274.9">_res5_1_branch2c_conv.w0</text>
<text class="t" x="652.8" y="325.9">_res5_1_branch2c_bn.w0</text>
<text class="t" x="786.6" y="325.9">_res5_1_branch2c_bn.w1</text>
<text class="t" x="918" y="325.9">_res5_1_branch2c_bn.w2</text>
</g>

<g transform="translate(414,5642.7)">
<text class="t" x="204.5" y="46.9">_res5_2_branch2a_conv.w0</text>
<text class="t" x="-22" y="98.9">_res5_2_branch2a_bn.w0</text>
<text class="t" x="115" y="98.9">_res5_2_branch2a_bn.w1</text>
<text class="t" x="246" y="98.9">_res5_2_branch2a_bn.w2</text>
<text class="t" x="115.5" y="160.9">_res5_2_branch2b_conv.w0</text>
<text class="t" x="-23" y="212.4">_res5_2_branch2b_bn.w0</text>
<text class="t" x="116.5" y="212.4">_res5_2_branch2b_bn.w1</text>
<text class="t" x="246" y="212.4">_res5_2_branch2b_bn.w2</text>
<text class="t" x="117" y="274.9">_res5_2_branch2c_conv.w0</text>
<text class="t" x="-20" y="325.9">_res5_2_branch2c_bn.w0</text>
<text class="t" x="119" y="325.9">_res5_2_branch2c_bn.w1</text>
<text class="t" x="247" y="325.9">_res5_2_branch2c_bn.w2</text>
</g>

<g transform="translate(479,6035.1)">
<text class="t" x="204.5" y="46.9">_res5_3_branch2a_conv.w0</text>
<text class="t" x="-22" y="98.9">_res5_3_branch2a_bn.w0</text>
<text class="t" x="115" y="98.9">_res5_3_branch2a_bn.w1</text>
<text class="t" x="246" y="98.9">_res5_3_branch2a_bn.w2</text>
<text class="t" x="115.5" y="160.9">_res5_3_branch2b_conv.w0</text>
<text class="t" x="-23" y="212.4">_res5_3_branch2b_bn.w0</text>
<text class="t" x="116.5" y="212.4">_res5_3_branch2b_bn.w1</text>
<text class="t" x="246" y="212.4">_res5_3_branch2b_bn.w2</text>
<text class="t" x="117" y="274.9">_res5_3_branch2c_conv.w0</text>
<text class="t" x="-20" y="325.9">_res5_3_branch2c_bn.w0</text>
<text class="t" x="119" y="325.9">_res5_3_branch2c_bn.w1</text>
<text class="t" x="247" y="325.9">_res5_3_branch2c_bn.w2</text>
</g>
</g>
</svg>
